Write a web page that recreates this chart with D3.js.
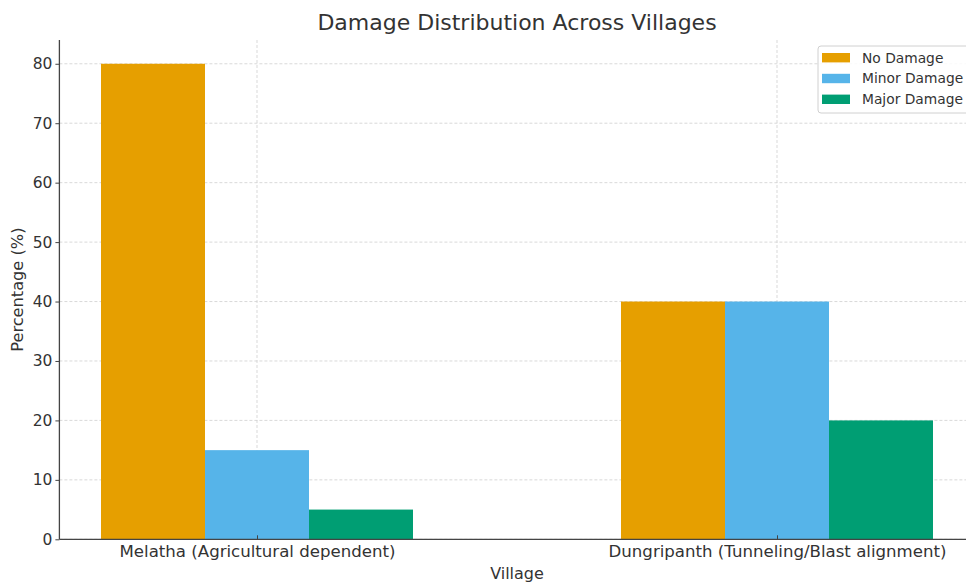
<!DOCTYPE html>
<html>
<head>
<meta charset="utf-8">
<script src="https://cdn.jsdelivr.net/npm/d3@7"></script>
<style>
  body { margin: 0; background: #fff; }
  text { font-family: "DejaVu Sans", sans-serif; fill: #333; }
</style>
</head>
<body>
<div id="chart"></div>
<script>
const villages = ["Melatha (Agricultural dependent)", "Dungripanth (Tunneling/Blast alignment)"];
const seriesNames = ["No Damage", "Minor Damage", "Major Damage"];
const noDamage = [80, 40];
const minorDamage = [15, 40];
const majorDamage = [5, 20];
const yTicks = [0, 10, 20, 30, 40, 50, 60, 70, 80];

const seriesValues = [noDamage, minorDamage, majorDamage];
const colors = ["#E69F00", "#56B4E9", "#009E73"];

const width = 966, height = 584;
const plotLeft = 59.4, plotRight = 974.6, plotTop = 40, plotBottom = 539.3;
const barW = 0.2;

const svg = d3.select("#chart").append("svg")
    .attr("width", width)
    .attr("height", height);

// numeric x scale: village index -> pixels (matplotlib-like margins)
const x = d3.scaleLinear().domain([-0.38, 1.38]).range([plotLeft, plotRight]);
const y = d3.scaleLinear().domain([0, 84]).range([plotBottom, plotTop]);

// grid
svg.append("g").selectAll("line")
    .data(yTicks)
    .enter().append("line")
    .attr("x1", plotLeft).attr("x2", plotRight)
    .attr("y1", d => y(d)).attr("y2", d => y(d))
    .attr("stroke", "#cfcfcf").attr("stroke-width", 0.8)
    .attr("stroke-dasharray", "3,2");

svg.append("g").selectAll("line")
    .data(villages)
    .enter().append("line")
    .attr("x1", (d, i) => x(i)).attr("x2", (d, i) => x(i))
    .attr("y1", plotTop).attr("y2", plotBottom)
    .attr("stroke", "#cfcfcf").attr("stroke-width", 0.8)
    .attr("stroke-dasharray", "3,2");

// bars
seriesValues.forEach((vals, s) => {
    svg.append("g").selectAll("rect")
        .data(vals)
        .enter().append("rect")
        .attr("x", (d, i) => x(i + (s - 1) * barW - barW / 2))
        .attr("width", x(barW) - x(0))
        .attr("y", d => y(d))
        .attr("height", d => y(0) - y(d))
        .attr("fill", colors[s]);
});

// axes
const yAxis = d3.axisLeft(y).tickValues(yTicks).tickSize(4).tickPadding(3);
const gy = svg.append("g").attr("transform", `translate(${plotLeft},0)`).call(yAxis);
gy.select(".domain").attr("stroke", "#444").attr("stroke-width", 1.3).attr("d", `M0,${plotTop}V${plotBottom}`);
gy.selectAll(".tick line").attr("stroke", "#444");
gy.selectAll(".tick text").style("font-size", "15.5px").style("fill", "#333");

const xAxis = d3.axisBottom(x).tickValues([0, 1]).tickFormat(i => villages[i]).tickSize(-4).tickPadding(6);
const gx = svg.append("g").attr("transform", `translate(0,${plotBottom})`).call(xAxis);
gx.select(".domain").attr("stroke", "#444").attr("stroke-width", 1.3).attr("d", `M${plotLeft},0H${plotRight}`);
gx.selectAll(".tick line").attr("stroke", "#444");
gx.selectAll(".tick text").style("font-size", "16.6px").style("fill", "#333");

// title and labels
svg.append("text")
    .attr("x", (plotLeft + plotRight) / 2).attr("y", 30)
    .attr("text-anchor", "middle")
    .style("font-size", "22px")
    .text("Damage Distribution Across Villages");

svg.append("text")
    .attr("x", (plotLeft + plotRight) / 2).attr("y", 579)
    .attr("text-anchor", "middle")
    .style("font-size", "16px")
    .text("Village");

svg.append("text")
    .attr("transform", `translate(23,${(plotTop + plotBottom) / 2}) rotate(-90)`)
    .attr("text-anchor", "middle")
    .style("font-size", "16.2px")
    .text("Percentage (%)");

// legend
const legend = svg.append("g").attr("transform", "translate(818,46)");
legend.append("rect")
    .attr("width", 160).attr("height", 67)
    .attr("rx", 3)
    .attr("fill", "#fff").attr("fill-opacity", 0.85)
    .attr("stroke", "#d0d0d0");

const item = legend.selectAll("g.item")
    .data(seriesNames)
    .enter().append("g")
    .classed("item", true)
    .attr("transform", (d, i) => `translate(4,${11.7 + i * 20.8})`);

item.append("rect")
    .attr("y", -4.7).attr("width", 28).attr("height", 9.4)
    .attr("fill", (d, i) => colors[i]);

item.append("text")
    .attr("x", 40).attr("dy", "0.35em")
    .style("font-size", "13.8px")
    .text(d => d);
</script>
</body>
</html>
